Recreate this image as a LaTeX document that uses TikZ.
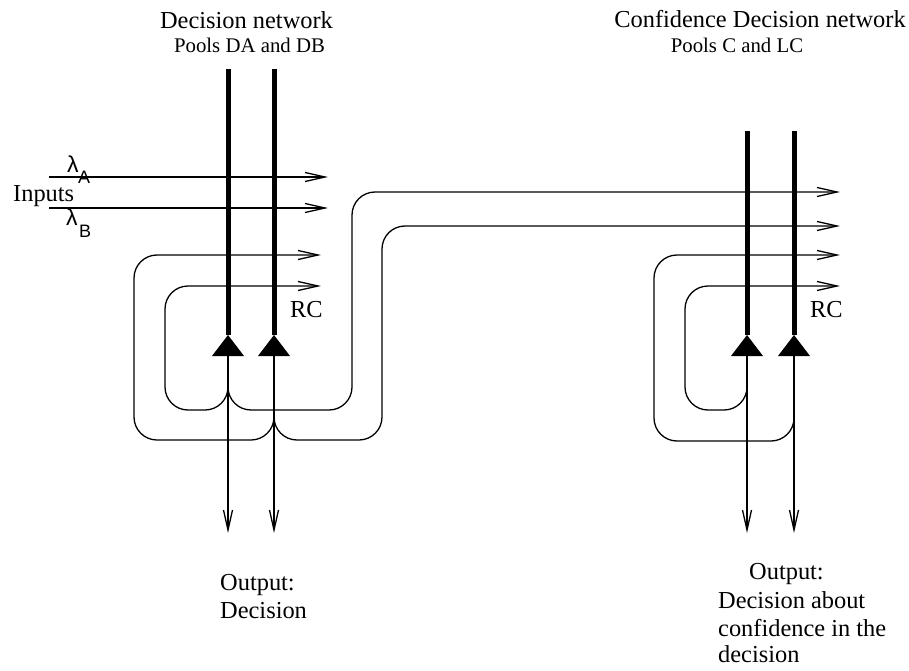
\documentclass[tikz,border=0pt]{standalone}
\usepackage{fontspec}
\setmainfont{Liberation Serif}
\newfontfamily\lamfont{Liberation Sans}
\usetikzlibrary{arrows.meta}
\begin{document}
\begin{tikzpicture}[x=1pt,y=-1pt,
  thinline/.style={line width=1.3pt,black},
  thickline/.style={line width=5pt,black},
  conn/.style={thinline,rounded corners=23pt},
  tip/.style={-{Straight Barb[length=20pt,width=9pt]}},
  lbl/.style={inner sep=0pt,anchor=base west,font=\fontsize{24.4}{28}\selectfont},
  small/.style={inner sep=0pt,anchor=base,font=\fontsize{20.8}{24}\selectfont},
  big/.style={inner sep=0pt,anchor=base,font=\fontsize{24.4}{28}\selectfont},
  lam/.style={inner sep=0pt,anchor=base west,font=\lamfont\fontsize{23}{26}\selectfont},
  sub/.style={inner sep=0pt,anchor=base west,font=\lamfont\fontsize{18}{20}\selectfont}]
\useasboundingbox (0,0) rectangle (909,671);

% ---------- coordinates: decision network ----------
\coordinate (daTop) at (228,69);  \coordinate (dbTop) at (274,69);
\coordinate (daApex) at (228,335); \coordinate (dbApex) at (274,335);
\coordinate (daBase) at (228,356); \coordinate (dbBase) at (274,356);
\coordinate (daOut) at (228,533);  \coordinate (dbOut) at (274,533);
\coordinate (daJ) at (228,388);    \coordinate (dbJ) at (274,417);
\coordinate (inA) at (49,177);     \coordinate (inAend) at (328,177);
\coordinate (inB) at (49,208);     \coordinate (inBend) at (328,208);
\coordinate (rcA) at (321,255);    \coordinate (rcB) at (321,286);

% ---------- coordinates: confidence network ----------
\coordinate (cTop) at (747,131);   \coordinate (lcTop) at (794,131);
\coordinate (cApex) at (747,335);  \coordinate (lcApex) at (794,335);
\coordinate (cBase) at (747,356);  \coordinate (lcBase) at (794,356);
\coordinate (cOut) at (747,533);   \coordinate (lcOut) at (794,533);
\coordinate (cJ) at (747,388);     \coordinate (lcJ) at (794,417);
\coordinate (cinA) at (840,192);   \coordinate (cinB) at (840,226);
\coordinate (crcA) at (840,255);   \coordinate (crcB) at (840,286);

% ---------- thick pool lines ----------
\draw[thickline] (daTop) -- (daApex);
\draw[thickline] (dbTop) -- (dbApex);
\draw[thickline] (cTop) -- (cApex);
\draw[thickline] (lcTop) -- (lcApex);

% ---------- triangles ----------
\foreach \b in {daBase,dbBase,cBase,lcBase}{
  \fill[black] (\b) ++(-16,0) -- ++(16,-21) -- ++(16,21) -- cycle;
}

% ---------- outputs ----------
\draw[thinline,tip] (daBase) -- (daOut);
\draw[thinline,tip] (dbBase) -- (dbOut);
\draw[thinline,tip] (cBase) -- (cOut);
\draw[thinline,tip] (lcBase) -- (lcOut);

% ---------- inputs ----------
\draw[thinline,tip] (inA) -- (inAend);
\draw[thinline,tip] (inB) -- (inBend);

% ---------- recurrent loops, decision network ----------
\draw[conn,tip] (daJ) -- (228,410) -- (165,410) -- (165,286) -- (rcB);
\draw[conn,tip] (dbJ) -- (274,440) -- (134,440) -- (134,255) -- (rcA);

% ---------- connections to confidence network ----------
\draw[conn,tip] (daJ) -- (228,410) -- (352,410) -- (352,192) -- (cinA);
\draw[conn,tip] (dbJ) -- (274,440) -- (382,440) -- (382,226) -- (cinB);

% ---------- recurrent loops, confidence network ----------
\draw[conn,tip] (cJ) -- (747,410) -- (685,410) -- (685,286) -- (crcB);
\draw[conn,tip] (lcJ) -- (794,441) -- (654,441) -- (654,255) -- (crcA);

% ---------- texts ----------
\node[big] (t1) at (246.5,29) {Decision network};
\node[small] (t1b) at (249.5,53) {Pools DA and DB};
\node[big] (t2) at (760,28) {Confidence Decision network};
\node[small] (t2b) at (737,53) {Pools C and LC};

\node[lbl] (inputs) at (13,201) {Inputs};
\node[lam] (lamA) at (67,172) {λ};
\node[sub] (subA) at (78,183) {A};
\node[lam] (lamB) at (66,225) {λ};
\node[sub] (subB) at (79,237) {B};

\node[lbl] (rc1) at (290,317) {RC};
\node[lbl] (rc2) at (810,317) {RC};

\node[lbl] (o1a) at (220,590) {Output:};
\node[lbl] (o1b) at (220,618) {Decision};

\node[lbl] (o2a) at (749,579) {Output:};
\node[lbl] (o2b) at (718,608) {Decision about};
\node[lbl] (o2c) at (718,636) {confidence in the};
\node[lbl] (o2d) at (718,662) {decision};
\end{tikzpicture}
\end{document}
